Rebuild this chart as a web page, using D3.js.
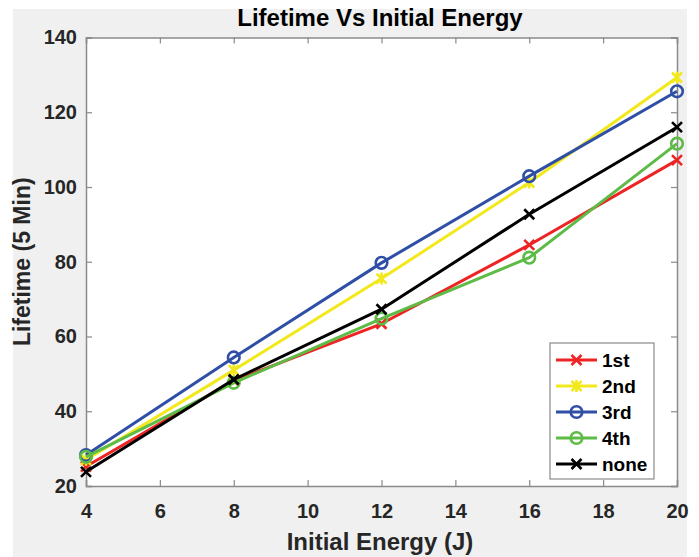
<!DOCTYPE html>
<html>
<head>
<meta charset="utf-8">
<script src="https://cdn.jsdelivr.net/npm/d3@7"></script>
<style>
  body { margin: 0; background: #fff; }
  svg { display: block; font-family: "Liberation Sans", Arial, sans-serif; }
</style>
</head>
<body>
<div id="chart-container"></div>
<script>
// values
const energies = [4, 8, 12, 16, 20];
const first = [25.2, 48.2, 63.4, 84.5, 107.2];
const second = [27.0, 51.0, 75.5, 101.2, 129.3];
const third = [28.3, 54.4, 79.7, 102.9, 125.6];
const fourth = [27.8, 47.6, 64.8, 81.1, 111.6];
const none = [23.8, 48.5, 67.3, 92.7, 116.0];
const xTicks = [4, 6, 8, 10, 12, 14, 16, 18, 20];
const yTicks = [20, 40, 60, 80, 100, 120, 140];

const series = [
  { name: "1st", values: first, color: "#ee2424", marker: "x" },
  { name: "2nd", values: second, color: "#f2e81a", marker: "star" },
  { name: "3rd", values: third, color: "#2f4fa6", marker: "circle" },
  { name: "4th", values: fourth, color: "#5dbb46", marker: "circle" },
  { name: "none", values: none, color: "#000000", marker: "x" },
];

const width = 699;
const height = 557;
const margin = { top: 37.5, right: 22, bottom: 71, left: 86 };

const x = d3.scaleLinear().domain([4, 20]).range([margin.left, width - margin.right]);
const y = d3.scaleLinear().domain([20, 140]).range([height - margin.bottom, margin.top]);

const svg = d3
  .select("#chart-container")
  .append("svg")
  .attr("width", width)
  .attr("height", height);

// figure background
svg.append("rect")
  .attr("x", 13).attr("y", 9)
  .attr("width", 674).attr("height", height - 9)
  .attr("fill", "#f0f0f0");

// plot area
svg.append("rect")
  .attr("x", x(4)).attr("y", y(140))
  .attr("width", x(20) - x(4)).attr("height", y(20) - y(140))
  .attr("fill", "#fff");

const axisColor = "#8a8a8a";
const tickLen = 6;

// axes with inward ticks on all four sides
const axisBottomG = svg.append("g").attr("transform", `translate(0,${y(20)})`)
  .call(d3.axisBottom(x).tickValues(xTicks).tickSize(-tickLen).tickPadding(18).tickFormat(d3.format("d")));
const axisTopG = svg.append("g").attr("transform", `translate(0,${y(140)})`)
  .call(d3.axisTop(x).tickValues(xTicks).tickSize(-tickLen).tickFormat(""));
const axisLeftG = svg.append("g").attr("transform", `translate(${x(4)},0)`)
  .call(d3.axisLeft(y).tickValues(yTicks).tickSize(-tickLen).tickPadding(9).tickFormat(d3.format("d")));
const axisRightG = svg.append("g").attr("transform", `translate(${x(20)},0)`)
  .call(d3.axisRight(y).tickValues(yTicks).tickSize(-tickLen).tickFormat(""));

[axisBottomG, axisTopG, axisLeftG, axisRightG].forEach((g) => {
  g.select(".domain").attr("stroke", axisColor).attr("stroke-width", 1.5);
  g.selectAll(".tick line").attr("stroke", axisColor).attr("stroke-width", 1.2);
  g.selectAll(".tick text")
    .attr("fill", "#262626")
    .attr("font-size", 20)
    .attr("font-weight", "bold");
});

// lines
const line = d3.line().x((d, i) => x(energies[i])).y((d) => y(d));

function drawMarker(g, type, cx, cy, color) {
  if (type === "circle") {
    g.append("circle").attr("cx", cx).attr("cy", cy).attr("r", 5.8)
      .attr("fill", "none").attr("stroke", color).attr("stroke-width", 2.6);
  } else {
    const s = 5;
    g.append("path")
      .attr("d", `M${cx - s},${cy - s}L${cx + s},${cy + s}M${cx - s},${cy + s}L${cx + s},${cy - s}` +
        (type === "star" ? `M${cx},${cy - s - 1}L${cx},${cy + s + 1}` : ""))
      .attr("stroke", color).attr("stroke-width", 2.6).attr("fill", "none");
  }
}

const plot = svg.append("g");
series.forEach((s) => {
  plot.append("path")
    .attr("d", line(s.values))
    .attr("fill", "none")
    .attr("stroke", s.color)
    .attr("stroke-width", 3)
    .attr("stroke-linejoin", "round");
  const mg = plot.append("g");
  s.values.forEach((v, i) => drawMarker(mg, s.marker, x(energies[i]), y(v), s.color));
});

// title and axis labels
svg.append("text")
  .attr("x", 380).attr("y", 26)
  .attr("text-anchor", "middle")
  .attr("font-size", 24).attr("font-weight", "bold").attr("fill", "#000")
  .text("Lifetime Vs Initial Energy");

svg.append("text")
  .attr("x", 380).attr("y", 550)
  .attr("text-anchor", "middle")
  .attr("font-size", 24).attr("font-weight", "bold").attr("fill", "#262626")
  .text("Initial Energy (J)");

svg.append("text")
  .attr("transform", `translate(30,${(y(20) + y(140)) / 2}) rotate(-90)`)
  .attr("text-anchor", "middle")
  .attr("font-size", 23).attr("font-weight", "bold").attr("fill", "#262626")
  .text("Lifetime (5 Min)");

// legend
const legend = svg.append("g").attr("transform", "translate(550,343)");
legend.append("rect")
  .attr("width", 104).attr("height", 136)
  .attr("fill", "#fff").attr("stroke", "#8a8a8a").attr("stroke-width", 1.2);
series.forEach((s, i) => {
  const ly = 17 + i * 26;
  legend.append("line")
    .attr("x1", 6).attr("x2", 47).attr("y1", ly).attr("y2", ly)
    .attr("stroke", s.color).attr("stroke-width", 3);
  drawMarker(legend, s.marker, 26.5, ly, s.color);
  legend.append("text")
    .attr("x", 52).attr("y", ly).attr("dy", "0.35em")
    .attr("font-size", 19).attr("font-weight", "bold").attr("fill", "#000")
    .text(s.name);
});
</script>
</body>
</html>
